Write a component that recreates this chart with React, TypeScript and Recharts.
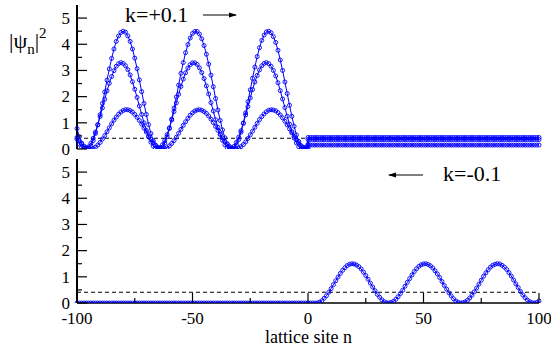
import { LineChart, Line, XAxis, YAxis, ReferenceLine } from "recharts";

const BLUE = "#0000ff";
const FONT = "'Liberation Serif', 'Times New Roman', serif";

// tick positions
const xTicks = [-100, -75, -50, -25, 0, 25, 50, 75, 100];
const yTicks = [0, 0.5, 1, 1.5, 2, 2.5, 3, 3.5, 4, 4.5, 5];

// dashed reference level
const dashLevel = 0.41;

// top panel (k=+0.1): left half then right half, n=0 appears twice where the curves jump
const topSites = [
  -100, -99, -98, -97, -96, -95, -94, -93, -92, -91, -90, -89, -88, -87, -86, -85, -84, -83, -82, -81,
  -80, -79, -78, -77, -76, -75, -74, -73, -72, -71, -70, -69, -68, -67, -66, -65, -64, -63, -62, -61,
  -60, -59, -58, -57, -56, -55, -54, -53, -52, -51, -50, -49, -48, -47, -46, -45, -44, -43, -42, -41,
  -40, -39, -38, -37, -36, -35, -34, -33, -32, -31, -30, -29, -28, -27, -26, -25, -24, -23, -22, -21,
  -20, -19, -18, -17, -16, -15, -14, -13, -12, -11, -10, -9, -8, -7, -6, -5, -4, -3, -2, -1, 0,
  0, 1, 2, 3, 4, 5, 6, 7, 8, 9, 10, 11, 12, 13, 14, 15, 16, 17, 18, 19,
  20, 21, 22, 23, 24, 25, 26, 27, 28, 29, 30, 31, 32, 33, 34, 35, 36, 37, 38, 39,
  40, 41, 42, 43, 44, 45, 46, 47, 48, 49, 50, 51, 52, 53, 54, 55, 56, 57, 58, 59,
  60, 61, 62, 63, 64, 65, 66, 67, 68, 69, 70, 71, 72, 73, 74, 75, 76, 77, 78, 79,
  80, 81, 82, 83, 84, 85, 86, 87, 88, 89, 90, 91, 92, 93, 94, 95, 96, 97, 98, 99, 100,
];

const topA = [
  0.78, 0.47, 0.23, 0.08, 0.0, 0.02, 0.13, 0.32, 0.59, 0.92,
  1.31, 1.74, 2.18, 2.63, 3.06, 3.46, 3.82, 4.11, 4.32, 4.45,
  4.5, 4.46, 4.32, 4.11, 3.82, 3.47, 3.07, 2.64, 2.19, 1.74,
  1.32, 0.93, 0.59, 0.32, 0.13, 0.02, 0.0, 0.07, 0.23, 0.47,
  0.78, 1.14, 1.56, 1.99, 2.44, 2.89, 3.3, 3.68, 3.99, 4.24,
  4.41, 4.49, 4.49, 4.39, 4.21, 3.95, 3.62, 3.24, 2.82, 2.38,
  1.93, 1.49, 1.09, 0.73, 0.43, 0.2, 0.06, 0.0, 0.03, 0.16,
  0.36, 0.64, 0.99, 1.38, 1.81, 2.26, 2.7, 3.13, 3.53, 3.87,
  4.15, 4.35, 4.47, 4.5, 4.44, 4.29, 4.07, 3.77, 3.4, 3.0,
  2.56, 2.12, 1.67, 1.25, 0.87, 0.54, 0.29, 0.11, 0.01, 0.01,
  0.09,
  0.44, 0.44, 0.44, 0.44, 0.44, 0.44, 0.44, 0.44, 0.44, 0.44,
  0.44, 0.44, 0.44, 0.44, 0.44, 0.44, 0.44, 0.44, 0.44, 0.44,
  0.44, 0.44, 0.44, 0.44, 0.44, 0.44, 0.44, 0.44, 0.44, 0.44,
  0.44, 0.44, 0.44, 0.44, 0.44, 0.44, 0.44, 0.44, 0.44, 0.44,
  0.44, 0.44, 0.44, 0.44, 0.44, 0.44, 0.44, 0.44, 0.44, 0.44,
  0.44, 0.44, 0.44, 0.44, 0.44, 0.44, 0.44, 0.44, 0.44, 0.44,
  0.44, 0.44, 0.44, 0.44, 0.44, 0.44, 0.44, 0.44, 0.44, 0.44,
  0.44, 0.44, 0.44, 0.44, 0.44, 0.44, 0.44, 0.44, 0.44, 0.44,
  0.44, 0.44, 0.44, 0.44, 0.44, 0.44, 0.44, 0.44, 0.44, 0.44,
  0.44, 0.44, 0.44, 0.44, 0.44, 0.44, 0.44, 0.44, 0.44, 0.44,
  0.44,
];

const topB = [
  0.37, 0.19, 0.06, 0.01, 0.01, 0.08, 0.22, 0.41, 0.65, 0.93,
  1.24, 1.57, 1.9, 2.22, 2.51, 2.77, 2.99, 3.16, 3.26, 3.3,
  3.27, 3.18, 3.03, 2.83, 2.57, 2.28, 1.97, 1.64, 1.32, 1.0,
  0.71, 0.46, 0.26, 0.11, 0.02, 0.0, 0.05, 0.16, 0.32, 0.55,
  0.81, 1.11, 1.43, 1.76, 2.09, 2.39, 2.67, 2.91, 3.09, 3.22,
  3.29, 3.29, 3.23, 3.1, 2.92, 2.69, 2.41, 2.1, 1.77, 1.45,
  1.12, 0.83, 0.56, 0.33, 0.16, 0.05, 0.0, 0.02, 0.1, 0.25,
  0.45, 0.7, 0.98, 1.3, 1.62, 1.95, 2.27, 2.56, 2.81, 3.02,
  3.18, 3.27, 3.3, 3.26, 3.16, 3.0, 2.79, 2.53, 2.23, 1.91,
  1.58, 1.25, 0.95, 0.66, 0.42, 0.23, 0.09, 0.01, 0.0, 0.06,
  0.18,
  0.36, 0.36, 0.36, 0.36, 0.36, 0.36, 0.36, 0.36, 0.36, 0.36,
  0.36, 0.36, 0.36, 0.36, 0.36, 0.36, 0.36, 0.36, 0.36, 0.36,
  0.36, 0.36, 0.36, 0.36, 0.36, 0.36, 0.36, 0.36, 0.36, 0.36,
  0.36, 0.36, 0.36, 0.36, 0.36, 0.36, 0.36, 0.36, 0.36, 0.36,
  0.36, 0.36, 0.36, 0.36, 0.36, 0.36, 0.36, 0.36, 0.36, 0.36,
  0.36, 0.36, 0.36, 0.36, 0.36, 0.36, 0.36, 0.36, 0.36, 0.36,
  0.36, 0.36, 0.36, 0.36, 0.36, 0.36, 0.36, 0.36, 0.36, 0.36,
  0.36, 0.36, 0.36, 0.36, 0.36, 0.36, 0.36, 0.36, 0.36, 0.36,
  0.36, 0.36, 0.36, 0.36, 0.36, 0.36, 0.36, 0.36, 0.36, 0.36,
  0.36, 0.36, 0.36, 0.36, 0.36, 0.36, 0.36, 0.36, 0.36, 0.36,
  0.36,
];

const topC = [
  0.44, 0.32, 0.2, 0.11, 0.05, 0.01, 0.0, 0.02, 0.07, 0.15,
  0.25, 0.38, 0.51, 0.66, 0.81, 0.96, 1.1, 1.22, 1.33, 1.41,
  1.47, 1.5, 1.5, 1.47, 1.41, 1.32, 1.21, 1.09, 0.95, 0.8,
  0.65, 0.5, 0.37, 0.25, 0.15, 0.07, 0.02, 0.0, 0.01, 0.05,
  0.12, 0.21, 0.32, 0.45, 0.6, 0.75, 0.9, 1.04, 1.17, 1.29,
  1.38, 1.45, 1.49, 1.5, 1.48, 1.43, 1.36, 1.26, 1.14, 1.01,
  0.86, 0.71, 0.56, 0.42, 0.29, 0.19, 0.1, 0.04, 0.01, 0.0,
  0.03, 0.09, 0.17, 0.27, 0.4, 0.54, 0.68, 0.83, 0.98, 1.12,
  1.24, 1.34, 1.42, 1.48, 1.5, 1.49, 1.46, 1.39, 1.3, 1.19,
  1.06, 0.92, 0.77, 0.62, 0.48, 0.35, 0.23, 0.13, 0.06, 0.02,
  0.0,
  0.15, 0.15, 0.15, 0.15, 0.15, 0.15, 0.15, 0.15, 0.15, 0.15,
  0.15, 0.15, 0.15, 0.15, 0.15, 0.15, 0.15, 0.15, 0.15, 0.15,
  0.15, 0.15, 0.15, 0.15, 0.15, 0.15, 0.15, 0.15, 0.15, 0.15,
  0.15, 0.15, 0.15, 0.15, 0.15, 0.15, 0.15, 0.15, 0.15, 0.15,
  0.15, 0.15, 0.15, 0.15, 0.15, 0.15, 0.15, 0.15, 0.15, 0.15,
  0.15, 0.15, 0.15, 0.15, 0.15, 0.15, 0.15, 0.15, 0.15, 0.15,
  0.15, 0.15, 0.15, 0.15, 0.15, 0.15, 0.15, 0.15, 0.15, 0.15,
  0.15, 0.15, 0.15, 0.15, 0.15, 0.15, 0.15, 0.15, 0.15, 0.15,
  0.15, 0.15, 0.15, 0.15, 0.15, 0.15, 0.15, 0.15, 0.15, 0.15,
  0.15, 0.15, 0.15, 0.15, 0.15, 0.15, 0.15, 0.15, 0.15, 0.15,
  0.15,
];

// bottom panel (k=-0.1)
const bottomSites = [
  -100, -99, -98, -97, -96, -95, -94, -93, -92, -91, -90, -89, -88, -87, -86, -85, -84, -83, -82, -81,
  -80, -79, -78, -77, -76, -75, -74, -73, -72, -71, -70, -69, -68, -67, -66, -65, -64, -63, -62, -61,
  -60, -59, -58, -57, -56, -55, -54, -53, -52, -51, -50, -49, -48, -47, -46, -45, -44, -43, -42, -41,
  -40, -39, -38, -37, -36, -35, -34, -33, -32, -31, -30, -29, -28, -27, -26, -25, -24, -23, -22, -21,
  -20, -19, -18, -17, -16, -15, -14, -13, -12, -11, -10, -9, -8, -7, -6, -5, -4, -3, -2, -1,
  0, 1, 2, 3, 4, 5, 6, 7, 8, 9, 10, 11, 12, 13, 14, 15, 16, 17, 18, 19,
  20, 21, 22, 23, 24, 25, 26, 27, 28, 29, 30, 31, 32, 33, 34, 35, 36, 37, 38, 39,
  40, 41, 42, 43, 44, 45, 46, 47, 48, 49, 50, 51, 52, 53, 54, 55, 56, 57, 58, 59,
  60, 61, 62, 63, 64, 65, 66, 67, 68, 69, 70, 71, 72, 73, 74, 75, 76, 77, 78, 79,
  80, 81, 82, 83, 84, 85, 86, 87, 88, 89, 90, 91, 92, 93, 94, 95, 96, 97, 98, 99, 100,
];

const bottomD = [
  0, 0, 0, 0, 0, 0, 0, 0, 0, 0, 0, 0, 0, 0, 0, 0, 0, 0, 0, 0,
  0, 0, 0, 0, 0, 0, 0, 0, 0, 0, 0, 0, 0, 0, 0, 0, 0, 0, 0, 0,
  0, 0, 0, 0, 0, 0, 0, 0, 0, 0, 0, 0, 0, 0, 0, 0, 0, 0, 0, 0,
  0, 0, 0, 0, 0, 0, 0, 0, 0, 0, 0, 0, 0, 0, 0, 0, 0, 0, 0, 0,
  0, 0, 0, 0, 0, 0, 0, 0, 0, 0, 0, 0, 0, 0, 0, 0, 0, 0, 0, 0,
  0, 0, 0, 0,
  0.0, 0.03, 0.09, 0.18, 0.28, 0.41, 0.55, 0.7, 0.85, 0.99,
  1.13, 1.25, 1.35, 1.43, 1.48, 1.5, 1.49, 1.45, 1.39, 1.3,
  1.18, 1.05, 0.91, 0.76, 0.61, 0.47, 0.33, 0.22, 0.12, 0.05,
  0.01, 0.0, 0.02, 0.06, 0.14, 0.24, 0.36, 0.49, 0.64, 0.79,
  0.93, 1.07, 1.2, 1.31, 1.4, 1.46, 1.49, 1.5, 1.47, 1.42,
  1.34, 1.23, 1.11, 0.97, 0.82, 0.67, 0.53, 0.39, 0.27, 0.16,
  0.08, 0.03, 0.0, 0.01, 0.04, 0.1, 0.19, 0.3, 0.43, 0.57,
  0.72, 0.87, 1.02, 1.15, 1.27, 1.37, 1.44, 1.48, 1.5, 1.49,
  1.44, 1.37, 1.28, 1.16, 1.03, 0.88, 0.73, 0.59, 0.44, 0.31,
  0.2, 0.11, 0.05, 0.01, 0.0, 0.02, 0.08,
];

const topRows = topSites.map((n, i) => ({ n, a: topA[i], b: topB[i], c: topC[i] }));
const bottomRows = bottomSites.map((n, i) => ({ n, d: bottomD[i] }));

const dotStyle = { r: 2, stroke: BLUE, strokeWidth: 0.9, fill: "none" };

function BottomTick(props: any) {
  const { x, y, payload, showLabel } = props;
  const v = payload.value;
  const major = v % 50 === 0;
  return (
    <g>
      <line x1={x} x2={x} y1={y} y2={y - (major ? 10 : 5)} stroke="#000" strokeWidth={1.2} />
      {showLabel && major && (
        <text x={x} y={y + 21} textAnchor="middle" fontSize={17} fontFamily={FONT} fill="#000">
          {v}
        </text>
      )}
    </g>
  );
}

function LeftTick(props: any) {
  const { x, y, payload } = props;
  const v = payload.value;
  const major = Number.isInteger(v);
  return (
    <g>
      <line x1={x} x2={x + (major ? 10 : 5)} y1={y} y2={y} stroke="#000" strokeWidth={1.2} />
      {major && (
        <text x={x - 7} y={y} dy="0.34em" textAnchor="end" fontSize={17} fontFamily={FONT} fill="#000">
          {v}
        </text>
      )}
    </g>
  );
}

function RightTick(props: any) {
  const { x, y, payload } = props;
  const major = Number.isInteger(payload.value);
  return <line x1={x} x2={x - (major ? 10 : 5)} y1={y} y2={y} stroke="#000" strokeWidth={1.2} />;
}

function panelAxes(showLabels: boolean, bottomWidth: number) {
  return [
    <XAxis
      key="xb"
      dataKey="n"
      type="number"
      domain={[-100, 100]}
      ticks={xTicks}
      interval={0}
      tickSize={0}
      tickMargin={0}
      height={showLabels ? 51 : 0}
      axisLine={{ stroke: "#000", strokeWidth: bottomWidth }}
      tickLine={false}
      tick={(p: any) => <BottomTick {...p} showLabel={showLabels} />}
    />,
    <XAxis
      key="xt"
      xAxisId="top"
      orientation="top"
      dataKey="n"
      type="number"
      domain={[-100, 100]}
      height={0}
      tick={false}
      tickLine={false}
      axisLine={{ stroke: "#333", strokeWidth: 1.5 }}
    />,
    <YAxis
      key="yl"
      type="number"
      domain={[0, 5.5]}
      ticks={yTicks}
      interval={0}
      width={77}
      tickSize={0}
      tickMargin={0}
      allowDataOverflow
      axisLine={{ stroke: "#000", strokeWidth: 2 }}
      tickLine={false}
      tick={(p: any) => <LeftTick {...p} />}
    />,
    <YAxis
      key="yr"
      yAxisId="right"
      orientation="right"
      type="number"
      domain={[0, 5.5]}
      ticks={yTicks}
      interval={0}
      width={0}
      tickSize={0}
      tickMargin={0}
      allowDataOverflow
      axisLine={{ stroke: "#000", strokeWidth: 1.5 }}
      tickLine={false}
      tick={(p: any) => <RightTick {...p} />}
    />,
  ];
}

const textStyle = { position: "absolute" as const, fontFamily: FONT, color: "#000", whiteSpace: "nowrap" as const };

export default function App() {
  return (
    <div
      style={{
        position: "absolute",
        left: 0,
        top: 0,
        width: 551,
        height: 354,
        background: "#fff",
        fontFamily: FONT,
        overflow: "hidden",
      }}
    >
      <div style={{ position: "absolute", left: 0, top: 0 }}>
        <LineChart width={551} height={160} data={topRows} margin={{ top: 5, right: 12, left: 0, bottom: 11 }}>
          {panelAxes(false, 2.6)}
          <ReferenceLine y={dashLevel} stroke="#000" strokeWidth={1} strokeDasharray="4 3" />
          <Line dataKey="a" stroke={BLUE} strokeWidth={1} dot={dotStyle} activeDot={false} isAnimationActive={false} />
          <Line dataKey="b" stroke={BLUE} strokeWidth={1} dot={dotStyle} activeDot={false} isAnimationActive={false} />
          <Line dataKey="c" stroke={BLUE} strokeWidth={1} dot={dotStyle} activeDot={false} isAnimationActive={false} />
        </LineChart>
      </div>

      <div style={{ position: "absolute", left: 0, top: 0 }}>
        <LineChart width={551} height={354} data={bottomRows} margin={{ top: 159, right: 12, left: 0, bottom: 0 }}>
          {panelAxes(true, 1.6)}
          <ReferenceLine y={dashLevel} stroke="#000" strokeWidth={1} strokeDasharray="4 3" />
          <Line dataKey="d" stroke={BLUE} strokeWidth={1} dot={dotStyle} activeDot={false} isAnimationActive={false} />
        </LineChart>
      </div>

      {/* y-axis title */}
      <div style={{ ...textStyle, left: 9, top: 30, fontSize: 22, lineHeight: "22px" }}>
        |ψ<span style={{ fontSize: 15, position: "relative", top: 6 }}>n</span>|
        <span style={{ fontSize: 15, position: "relative", top: -10 }}>2</span>
      </div>

      {/* annotations */}
      <div style={{ ...textStyle, left: 125, top: 4, fontSize: 22, lineHeight: "22px" }}>k=+0.1</div>
      <div style={{ ...textStyle, left: 443, top: 163, fontSize: 22, lineHeight: "22px" }}>k=-0.1</div>
      <svg width={551} height={354} style={{ position: "absolute", left: 0, top: 0, pointerEvents: "none" }}>
        <line x1={203} y1={15} x2={236} y2={15} stroke="#000" strokeWidth={1} />
        <path d="M237,15 L229,12.5 L229,17.5 Z" fill="#000" />
        <line x1={389} y1={175} x2={423} y2={175} stroke="#000" strokeWidth={1} />
        <path d="M388,175 L396,172.5 L396,177.5 Z" fill="#000" />
      </svg>

      <div style={{ ...textStyle, left: 0, width: 617, top: 328, textAlign: "center", fontSize: 18, lineHeight: "18px" }}>
        lattice site n
      </div>
    </div>
  );
}
